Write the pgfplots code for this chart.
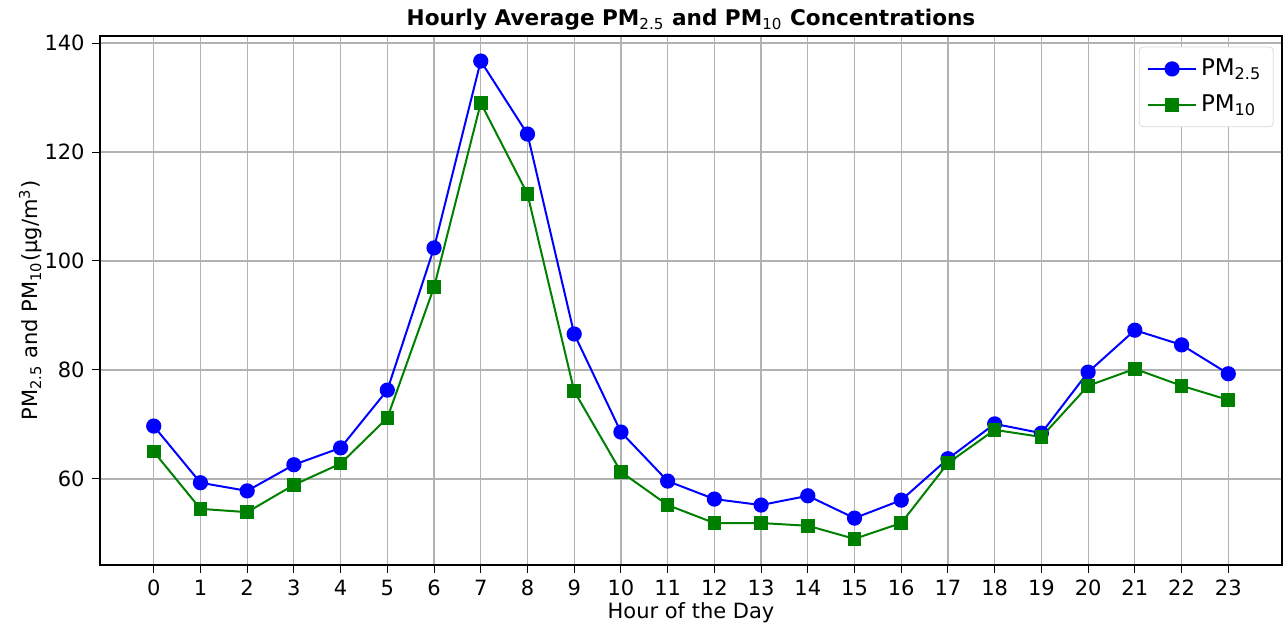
\documentclass[border=0pt]{standalone}
\usepackage{pgfplots}
\pgfplotsset{compat=1.18}
\usepackage{fontspec}
\setmainfont{DejaVu Sans}
\begin{document}
\fontsize{10.5pt}{12.6pt}\selectfont
\begin{tikzpicture}
\definecolor{mplblue}{RGB}{0,0,255}
\definecolor{mplgreen}{RGB}{0,128,0}
\begin{axis}[
  scale only axis,
  width=591pt, height=264.5pt,
  xmin=-1.15, xmax=24.15,
  ymin=44.2, ymax=141.3,
  xtick={0,...,23},
  ytick={60,80,100,120,140},
  tick align=outside,
  xtick pos=bottom, ytick pos=left,
  major tick length=4pt,
  tick style={black, line width=0.5pt},
  grid=major,
  major grid style={color=black!30, line width=0.6pt},
  axis line style={black, line width=0.6pt},
  /pgf/number format/assume math mode=true,
  ticklabel style={font=\fontsize{10.5pt}{12pt}\selectfont},
  xlabel={Hour of the Day},
  ylabel={PM\textsubscript{2.5} and PM\textsubscript{10}(µg/m\textsuperscript{3})},
  xlabel style={yshift=4pt},
  ylabel style={yshift=-6pt},
  title={\fontsize{10.8pt}{13pt}\selectfont\textbf{Hourly Average PM\textsubscript{\mdseries 2.5} and PM\textsubscript{\mdseries 10} Concentrations}},
  title style={yshift=-7pt},
  legend style={draw=black!15, rounded corners=2pt, fill=white, at={(0.993,0.98)}, anchor=north east,
    font=\fontsize{11.5pt}{13pt}\selectfont, row sep=4pt, inner sep=4pt},
  legend cell align=left,
  legend image code/.code={\draw[mark repeat=2,mark phase=2] plot coordinates {(0cm,0cm) (0.42cm,0cm) (0.84cm,0cm)};},
]
\addplot[color=mplblue, line width=1pt, mark=*, mark size=3.3pt, mark options={fill=mplblue, draw=mplblue}] coordinates {
(0,69.7) (1,59.3) (2,57.8) (3,62.6) (4,65.7) (5,76.3) (6,102.4) (7,136.7)
(8,123.3) (9,86.6) (10,68.6) (11,59.6) (12,56.3) (13,55.2) (14,56.9) (15,52.8)
(16,56.1) (17,63.7) (18,70.1) (19,68.4) (20,79.6) (21,87.3) (22,84.6) (23,79.3)
};
\addlegendentry{PM\textsubscript{2.5}}
\addplot[color=mplgreen, line width=1pt, mark=square*, mark size=2.9pt, mark options={fill=mplgreen, draw=mplgreen}] coordinates {
(0,65.0) (1,54.5) (2,53.9) (3,58.9) (4,62.8) (5,71.2) (6,95.2) (7,129.0)
(8,112.3) (9,76.1) (10,61.3) (11,55.2) (12,51.9) (13,51.9) (14,51.4) (15,49.0)
(16,51.9) (17,62.9) (18,69.0) (19,67.7) (20,77.1) (21,80.2) (22,77.1) (23,74.5)
};
\addlegendentry{PM\textsubscript{10}}
\end{axis}
\path[use as bounding box] (-50pt,-30.5pt) rectangle (593pt,282.5pt);
\end{tikzpicture}
\end{document}
